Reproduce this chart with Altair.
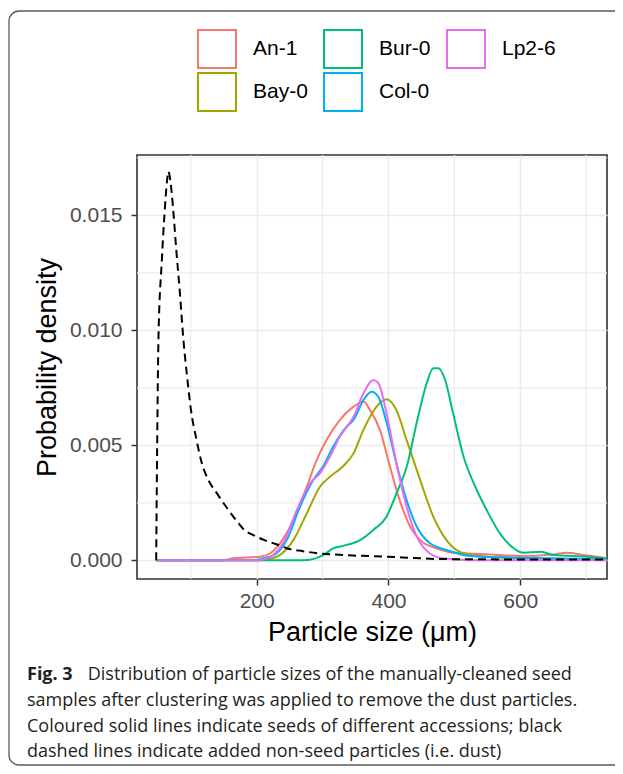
import math
import altair as alt
import pandas as pd

# ---------------- data ----------------
an1_x = [48, 150, 164.5, 205, 220, 235.4, 255.6, 276, 291, 306, 326, 347, 362, 372, 387, 402, 417, 433, 448, 473, 498, 549, 599, 650, 670, 691, 731]
an1_y = [0, 0, 0.00009, 0.00016, 0.0003, 0.00074, 0.00175, 0.0032, 0.00436, 0.00523, 0.0061, 0.00668, 0.0069, 0.00653, 0.00567, 0.0041, 0.00262, 0.00146, 0.00088, 0.00052, 0.00033, 0.00027, 0.00019, 0.00026, 0.00033, 0.00026, 0.00009]

bay0_x = [48, 200, 215, 235, 255.6, 276, 296, 311, 331.5, 347, 362, 382, 397, 412, 427.5, 448, 468, 488, 508.5, 539, 599, 731]
bay0_y = [0, 0, 0.00004, 0.00023, 0.00088, 0.00204, 0.0032, 0.00363, 0.0041, 0.00465, 0.00567, 0.00668, 0.007, 0.00653, 0.00523, 0.0035, 0.0019, 0.00088, 0.00037, 0.00019, 0.00009, 0.00004]

bur0_x = [48, 270, 301, 316, 331, 357, 377, 397, 412, 428, 443, 458, 468, 476, 486, 498, 514, 534, 549, 569, 584, 605, 632, 650, 701, 731]
bur0_y = [0, 0, 0.00023, 0.00052, 0.00063, 0.00088, 0.00132, 0.0019, 0.0029, 0.0041, 0.006, 0.0077, 0.00835, 0.00835, 0.00784, 0.0064, 0.0045, 0.00306, 0.00219, 0.00117, 0.00067, 0.00033, 0.00037, 0.00023, 0.00016, 0.00009]

col0_x = [48, 195, 210, 230, 245.5, 265.7, 286, 301, 316, 336.5, 347, 362, 374.5, 384.6, 397, 412, 427.5, 443, 463, 488, 524, 574, 650, 731]
col0_y = [0, 0, 0.00009, 0.0003, 0.00088, 0.00233, 0.0035, 0.0041, 0.00494, 0.00581, 0.0061, 0.00697, 0.00733, 0.00711, 0.006, 0.00422, 0.00262, 0.00146, 0.00074, 0.00045, 0.00019, 0.00013, 0.00009, 0.00004]

lp26_x = [48, 195, 210, 225, 240, 261, 281, 296, 311, 326, 347, 362, 377, 384.6, 397, 412, 427.5, 443, 463, 483, 524, 731]
lp26_y = [0, 0, 0.00004, 0.00023, 0.00074, 0.00219, 0.00335, 0.00378, 0.0045, 0.00537, 0.00624, 0.00726, 0.00784, 0.0077, 0.0064, 0.00422, 0.00233, 0.00103, 0.0003, 0.00009, 0.00001, 0]

dust_x = [47.5, 49, 51, 56, 60, 64, 66, 68, 71, 74, 78, 83, 88.5, 94, 100, 109, 117, 126.6, 140, 154.4, 170, 182, 195, 210, 230, 245.5, 270, 296, 340, 397, 440, 473, 520, 600, 680, 731]
dust_y = [0, 0.005, 0.0097, 0.013, 0.015, 0.0165, 0.0169, 0.0167, 0.016, 0.015, 0.0135, 0.0118, 0.0097, 0.0081, 0.0066, 0.0052, 0.0042, 0.0035, 0.0029, 0.0023, 0.0017, 0.0013, 0.0011, 0.0009, 0.0007, 0.00053, 0.0004, 0.0003, 0.00022, 0.00016, 0.0001, 0.00006, 0.00005, 0.00004, 0.00004, 0.00004]

series_names = ["An-1", "Bay-0", "Bur-0", "Col-0", "Lp2-6"]
legend_order = ["An-1", "Bur-0", "Lp2-6", "Bay-0", "Col-0"]
legend_colors = ["#F8766D", "#00BF7D", "#E76BF3", "#A3A500", "#00B0F6"]

x_major = [200, 400, 600]
x_minor = [100, 300, 500, 700]
y_major = [0.0, 0.005, 0.010, 0.015]
y_minor = [0.0025, 0.0075, 0.0125, 0.0175]
x_domain = [18.4, 731.6]
y_domain = [-0.00081, 0.01762]

caption_bold = "Fig. 3"
caption_lines = [
    "Distribution of particle sizes of the manually-cleaned seed",
    "samples after clustering was applied to remove the dust particles.",
    "Coloured solid lines indicate seeds of different accessions; black",
    "dashed lines indicate added non-seed particles (i.e. dust)",
]

# ---------------- build tables ----------------
xs = [an1_x, bay0_x, bur0_x, col0_x, lp26_x]
ys = [an1_y, bay0_y, bur0_y, col0_y, lp26_y]
rows = []
for order, (name, sx, sy) in enumerate(zip(series_names, xs, ys)):
    for i, (a, b) in enumerate(zip(sx, sy)):
        rows.append({"x": a, "y": b, "series": name, "o": order * 1000 + i})
seeds = pd.DataFrame(rows)
dust = pd.DataFrame({"x": dust_x, "y": dust_y})

FONT = "Liberation Sans"
xscale = alt.Scale(domain=x_domain, nice=False, zero=False)
yscale = alt.Scale(domain=y_domain, nice=False, zero=False)
xaxis = alt.Axis(values=x_major, title="Particle size (μm)", grid=True, gridColor="#EBEBEB",
                 gridWidth=1.6, domain=False, tickColor="#333333", tickWidth=1.5, tickSize=6,
                 labelFont=FONT, labelFontSize=21, labelColor="#4D4D4D", labelPadding=5,
                 titleFont=FONT, titleFontSize=27, titleFontWeight="normal", titleColor="black",
                 titlePadding=8, format="d")
yaxis = alt.Axis(values=y_major, title="Probability density", grid=True, gridColor="#EBEBEB",
                 gridWidth=1.6, domain=False, tickColor="#333333", tickWidth=1.5, tickSize=6,
                 labelFont=FONT, labelFontSize=21, labelColor="#4D4D4D", labelPadding=9,
                 titleFont=FONT, titleFontSize=27, titleFontWeight="normal", titleColor="black",
                 titlePadding=8, format=".3f")

X = alt.X("x:Q", scale=xscale, axis=xaxis)
Y = alt.Y("y:Q", scale=yscale, axis=yaxis)

minor_x = alt.Chart(pd.DataFrame({"x": x_minor})).mark_rule(color="#EBEBEB", strokeWidth=1.2).encode(x=X)
minor_y = alt.Chart(pd.DataFrame({"y": y_minor})).mark_rule(color="#EBEBEB", strokeWidth=1.2).encode(y=Y)

lines = alt.Chart(seeds).mark_line(strokeWidth=2, interpolate="monotone", clip=True).encode(
    x=X, y=Y, order=alt.Order("o:Q"),
    color=alt.Color("series:N",
                    scale=alt.Scale(domain=legend_order, range=legend_colors),
                    legend=alt.Legend(title=None, orient="none", legendX=60, legendY=-126,
                                      columns=3, direction="horizontal",
                                      symbolType="square", symbolSize=1444, symbolStrokeWidth=2,
                                      symbolFillColor="white", labelFont=FONT, labelFontSize=21,
                                      labelColor="black", labelOffset=16, columnPadding=12,
                                      rowPadding=-4, padding=0)),
)

dust_line = alt.Chart(dust).mark_line(strokeWidth=2, color="black", strokeDash=[8, 5],
                                      interpolate="monotone", clip=True).encode(x=X, y=Y)

# ---------------- figure frame: thin filled bars (no strokes), open on the right ----------------
FRAME = "#5A5A5A"
left_edge = alt.Chart(pd.DataFrame({"k": ["left"]})).mark_rect(
    color=FRAME, strokeWidth=0).encode(
    x=alt.value(-128.65), x2=alt.value(-127.35), y=alt.value(-134), y2=alt.value(600))
top_edge = alt.Chart(pd.DataFrame({"k": ["top"]})).mark_rect(
    color=FRAME, strokeWidth=0).encode(
    x=alt.value(-118), x2=alt.value(560), y=alt.value(-144.65), y2=alt.value(-143.35))
bottom_edge = alt.Chart(pd.DataFrame({"k": ["bottom"]})).mark_rect(
    color=FRAME, strokeWidth=0).encode(
    x=alt.value(-118), x2=alt.value(560), y=alt.value(609.35), y2=alt.value(610.65))
corner_tl = alt.Chart(pd.DataFrame({"k": ["tl"]})).mark_arc(
    color=FRAME, radius=10.65, radius2=9.35, theta=1.5 * math.pi, theta2=2 * math.pi).encode(
    x=alt.value(-118), y=alt.value(-134))
corner_bl = alt.Chart(pd.DataFrame({"k": ["bl"]})).mark_arc(
    color=FRAME, radius=10.65, radius2=9.35, theta=math.pi, theta2=1.5 * math.pi).encode(
    x=alt.value(-118), y=alt.value(600))

cap_font = "Open Sans"
cap_size = 18
cap_color = "#231F20"
cap_layers = [
    alt.Chart(pd.DataFrame({"t": [caption_bold]})).mark_text(
        align="left", baseline="alphabetic", font=cap_font, fontSize=cap_size,
        fontWeight="bold", color=cap_color).encode(x=alt.value(-110), y=alt.value(524.5), text="t:N")
]
cap_pos = [(-49.3, 524.5), (-110, 550.5), (-110, 576.5), (-110, 602)]
for line, (px, py) in zip(caption_lines, cap_pos):
    cap_layers.append(
        alt.Chart(pd.DataFrame({"t": [line]})).mark_text(
            align="left", baseline="alphabetic", font=cap_font, fontSize=cap_size,
            color=cap_color).encode(x=alt.value(px), y=alt.value(py), text="t:N"))

chart = alt.layer(minor_x, minor_y, lines, dust_line,
                  left_edge, top_edge, bottom_edge, corner_tl, corner_bl,
                  *cap_layers).properties(
    width=470, height=424,
    autosize=alt.AutoSizeParams(type="none"),
    padding={"left": 129, "top": 147, "right": 8, "bottom": 187},
    background="white",
).configure_view(stroke="#333333", strokeWidth=1.6)

chart.save("out.html", embed_options={"renderer": "svg", "actions": False})
